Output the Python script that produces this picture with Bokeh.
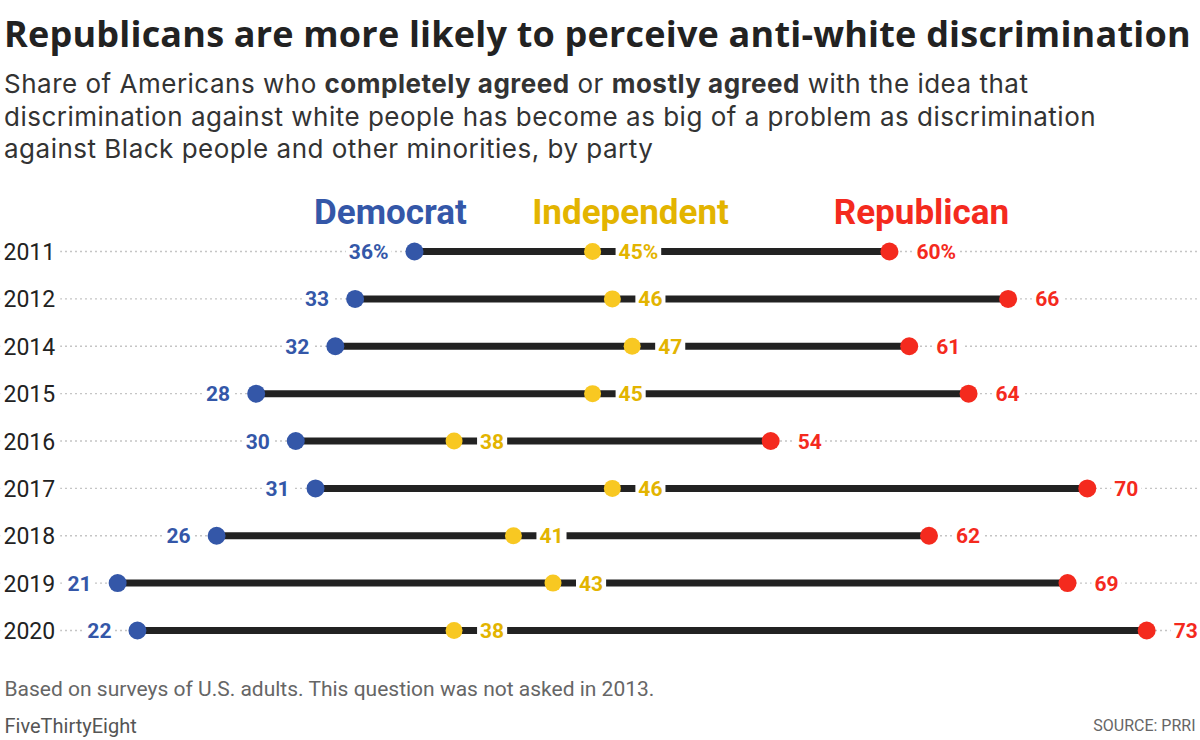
from bokeh.plotting import figure
from bokeh.models import ColumnDataSource, Range1d, Label, Div
from bokeh.layouts import column
from bokeh.core.properties import value
from bokeh.embed import file_html
from bokeh.resources import INLINE

years = ["2011", "2012", "2014", "2015", "2016", "2017", "2018", "2019", "2020"]
democrat = [36, 33, 32, 28, 30, 31, 26, 21, 22]
independent = [45, 46, 47, 45, 38, 46, 41, 43, 38]
republican = [60, 66, 61, 64, 54, 70, 62, 69, 73]
parties = ["Democrat", "Independent", "Republican"]

BLUE = "#3457a8"
YEL_DOT = "#f8c822"
YEL_TXT = "#e3b400"
RED = "#f42a1e"
FONT = "Roboto"
HFONT = "Open Sans"
SFONT = "Inter"

rows = list(range(len(years)))
X0, X1 = 15.08, 75.72


def lab(vals):
    return [f"{v}%" if i == 0 else str(v) for i, v in enumerate(vals)]


src = ColumnDataSource(dict(
    row=rows, year=years, dem=democrat, ind=independent, rep=republican,
    dem_l=lab(democrat), ind_l=lab(independent), rep_l=lab(republican),
    x0=[X0] * len(rows), x1=[X1] * len(rows),
))

W = 1200
H_DIV = 170
H_FIG = 570

title_html = f"""
<div style="color:#222; white-space:nowrap; width:{W}px; padding-left:4px;">
<div style="font-family:'{HFONT}', sans-serif; font-size:36px; font-weight:700; line-height:44px; margin-top:12px; letter-spacing:0.2px;">Republicans are more likely to perceive anti-white discrimination</div>
<div style="font-family:'{SFONT}', sans-serif; font-size:26px; line-height:32.5px; color:#333; margin-top:12px; letter-spacing:0.5px;">Share of Americans who <b>completely agreed</b> or <b>mostly agreed</b> with the idea that<br>discrimination against white people has become as big of a problem as discrimination<br>against Black people and other minorities, by party</div>
</div>
"""
div = Div(text=title_html, width=W, height=H_DIV, margin=0)

p = figure(width=W, height=H_FIG, output_backend="svg", toolbar_location=None,
           x_range=Range1d(X0, X1), y_range=Range1d(10.322, -1.710),
           min_border=0, outline_line_color=None)
p.xaxis.visible = False
p.yaxis.visible = False
p.xgrid.visible = False
p.ygrid.visible = False
p.background_fill_color = "white"

# dotted guide lines
p.segment(x0="x0", y0="row", x1="x1", y1="row", source=src,
          line_color="#8a8a8a", line_width=1.3, line_dash="1 4")

# year labels
p.text(x="x0", y="row", text="year", source=src, text_font=value(FONT),
       text_font_size="23px", text_color="#222", text_align="left",
       text_baseline="middle", x_offset=-2, background_fill_color="white",
       padding=5)

# black range bars
p.segment(x0="dem", y0="row", x1="rep", y1="row", source=src,
          line_color="#222222", line_width=7)

# dots
p.scatter(x="dem", y="row", source=src, size=18, fill_color=BLUE, line_color=None)
p.scatter(x="ind", y="row", source=src, size=17, fill_color=YEL_DOT, line_color=None)
p.scatter(x="rep", y="row", source=src, size=18, fill_color=RED, line_color=None)

common = dict(source=src, text_font=value(FONT), text_font_style="bold",
              text_font_size="21px", text_baseline="middle",
              background_fill_color="white", padding=3)
p.text(x="dem", y="row", text="dem_l", text_color=BLUE, text_align="right",
       x_offset=-23, **common)
p.text(x="ind", y="row", text="ind_l", text_color=YEL_TXT, text_align="left",
       x_offset=23, **common)
p.text(x="rep", y="row", text="rep_l", text_color=RED, text_align="left",
       x_offset=24, **common)

# party headers
for name, xc, col in zip(parties, [390, 630, 921], [BLUE, YEL_TXT, RED]):
    p.add_layout(Label(x=xc, y=H_FIG - 42, x_units="screen", y_units="screen",
                       text=name, text_font=FONT, text_font_style="bold",
                       text_font_size="35px", text_color=col,
                       text_align="center", text_baseline="middle"))

# footer
p.add_layout(Label(x=4, y=H_FIG - 518, x_units="screen", y_units="screen",
                   text="Based on surveys of U.S. adults. This question was not asked in 2013.",
                   text_font=FONT, text_font_size="21px", text_color="#666",
                   text_baseline="middle"))
p.add_layout(Label(x=4, y=H_FIG - 555, x_units="screen", y_units="screen",
                   text="FiveThirtyEight", text_font=FONT, text_font_size="20px",
                   text_color="#555", text_baseline="middle"))
p.add_layout(Label(x=1195, y=H_FIG - 555, x_units="screen", y_units="screen",
                   text="SOURCE: PRRI", text_font=FONT, text_font_size="16px",
                   text_color="#666", text_align="right", text_baseline="middle"))

layout = column(div, p, spacing=0)
open("out.html", "w").write(file_html(layout, INLINE))
